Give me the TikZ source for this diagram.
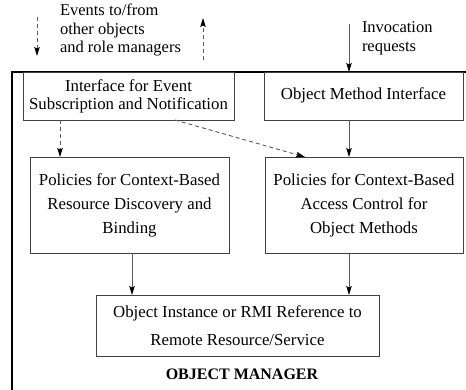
\documentclass[tikz,border=0pt]{standalone}
\usepackage{fontspec}
\setmainfont{Liberation Serif}
\usetikzlibrary{arrows.meta}
\begin{document}
\begin{tikzpicture}[x=1pt,y=-1pt,
  every node/.style={font=\fontsize{16.8}{24}\selectfont, inner sep=0pt, outer sep=0pt},
  box/.style={draw=black!75, line width=0.9pt, align=center},
  arr/.style={draw=black!65, line width=0.9pt, -{Stealth[length=9pt,width=5.5pt,inset=1.5pt,black]}},
  darr/.style={arr, dash pattern=on 4pt off 3pt},
  note/.style={align=left, anchor=north west, font=\fontsize{16.5}{18.5}\selectfont}]
  \useasboundingbox (0,0) rectangle (466,390);

  % enclosing object manager frame (open to the right and below)
  \draw[line width=1.6pt] (12,392) -- (12,72) -- (470,72);

  % components
  \node[box, minimum width=211pt, minimum height=48pt] (ev) at (128.5,96)
    {Interface for Event\\[-6pt]Subscription and Notification};
  \node[box, minimum width=199pt, minimum height=48pt] (omi) at (363.5,96)
    {\raisebox{5pt}{Object Method Interface}};
  \node[box, minimum width=199pt, minimum height=96pt] (lp) at (129.5,205)
    {Policies for Context-Based\\Resource Discovery and\\Binding};
  \node[box, minimum width=198pt, minimum height=96pt] (rp) at (364,205)
    {Policies for Context-Based\\Access Control for\\Object Methods};
  \node[box, minimum width=283pt, minimum height=61pt] (bot) at (237.5,325.5)
    {Object Instance or RMI Reference to\\[4pt]Remote Resource/Service};
  \node[font=\fontsize{16}{18}\selectfont\bfseries] (title) at (242,374) {OBJECT MANAGER};

  % external labels
  \node[note] (evtxt) at (60,4) {Events to/from\\other objects\\and role managers};
  \node[note] (invtxt) at (362,22) {Invocation\\requests};

  % external event and invocation arrows
  \coordinate (evin) at (37,17);
  \coordinate (evinend) at (37,56);
  \coordinate (evout) at (203,60);
  \coordinate (evoutend) at (203,18);
  \coordinate (invsrc) at (349,24);
  \draw[darr] (evin) -- (evinend);
  \draw[darr] (evout) -- (evoutend);
  \draw[arr] (invsrc) -- (invsrc |- omi.north);

  % internal flows
  \draw[darr] ([xshift=-68.5pt]ev.south) -- ([xshift=-68.5pt]ev.south |- lp.north);
  \draw[darr] ([xshift=46.5pt]ev.south) -- ([xshift=-59pt]rp.north);
  \draw[arr] ([xshift=-14.5pt]omi.south) -- ([xshift=-14.5pt]omi.south |- rp.north);
  \draw[arr] ([xshift=2.5pt]lp.south) -- ([xshift=2.5pt]lp.south |- bot.north);
  \draw[arr] ([xshift=-15pt]rp.south) -- ([xshift=-15pt]rp.south |- bot.north);
\end{tikzpicture}
\end{document}
